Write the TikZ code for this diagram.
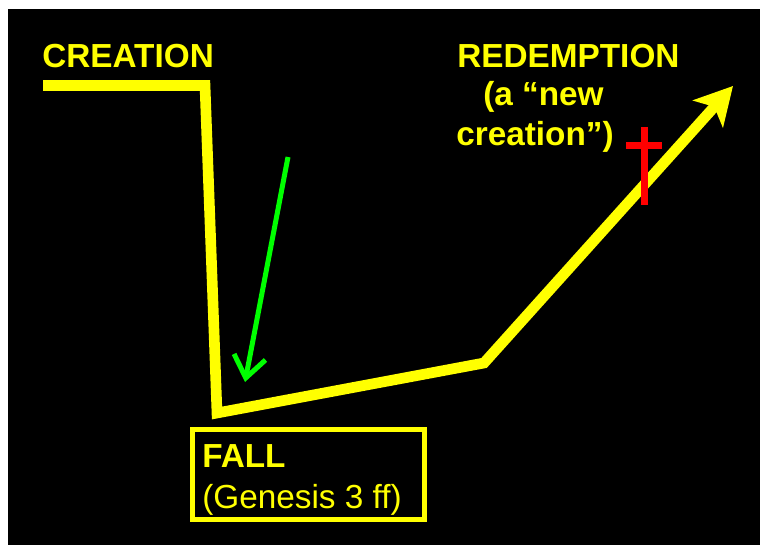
\documentclass[tikz,border=0pt]{standalone}
\usepackage{fontspec}
\setmainfont[Ligatures=NoCommon]{Liberation Sans}
\usetikzlibrary{arrows.meta}
\definecolor{yel}{RGB}{255,255,0}
\definecolor{grn}{RGB}{0,255,0}
\definecolor{rd}{RGB}{255,0,0}
\begin{document}
\begin{tikzpicture}[x=0.75pt,y=-0.75pt,
  lbl/.style={text=yel, font=\fontsize{25}{29}\selectfont\bfseries, anchor=base west, inner sep=0pt},
  lblreg/.style={text=yel, font=\fontsize{25}{29}\selectfont, anchor=base west, inner sep=0pt},
  mainline/.style={draw=yel, line width=8pt, line join=miter},
  crossbar/.style={draw=rd, line width=5.25pt},
  fallarrow/.style={draw=grn, line width=3.75pt, -{Straight Barb[length=16pt,width=24pt,line width=3.75pt]}}]
\useasboundingbox (0,0) rectangle (760,545);
\fill[white] (0,0) rectangle (760,545);
\fill[black] (8,9) rectangle (760,545);
% main path
\coordinate (c1) at (43,85.5);
\coordinate (c2) at (205,85.5);
\coordinate (c3) at (217,413);
\coordinate (c4) at (484,363);
\coordinate (c5) at (733,86);
\draw[mainline, -{Stealth[length=28pt,width=30pt,inset=7pt]}] (c1) -- (c2) -- (c3) -- (c4) -- (c5);
% green arrow
\coordinate (g1) at (288,157);
\coordinate (g2) at (245,382);
\draw[fallarrow] (g1) -- (g2);
% red cross
\coordinate (r1) at (644.5,127);
\coordinate (r2) at (644.5,205);
\coordinate (r3) at (626,145.5);
\coordinate (r4) at (662,145.5);
\draw[crossbar] (r1) -- (r2) (r3) -- (r4);
% fall box
\node[draw=yel, line width=3.75pt, minimum width=174pt, minimum height=67.5pt, inner sep=0pt] (fallbox) at (308.5,474.5) {};
% labels
\node[lbl] (creation) at (42,68) {CREATION};
\node[lbl] (redemption) at (457,68) {REDEMPTION};
\node[lbl] (anew) at (483,106) {(a “new};
\node[lbl] (creat2) at (456,146) {creation”)};
\node[lbl] (fall) at (202,467) {FALL};
\node[lblreg] (genesis) at (202,508) {(Genesis 3 ff)};
\end{tikzpicture}
\end{document}
